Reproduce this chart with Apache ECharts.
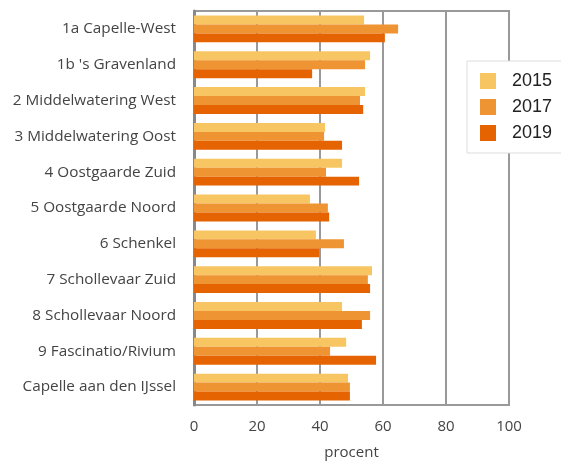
<!DOCTYPE html>
<html><head><meta charset="utf-8">
<script src="https://cdn.jsdelivr.net/npm/echarts@6/dist/echarts.min.js"></script>
<style>html,body{margin:0;padding:0;background:#fff}#c{width:561px;height:465px}</style>
</head><body><div id="c"></div>
<script>
const categories = ["1a Capelle-West","1b 's Gravenland","2 Middelwatering West","3 Middelwatering Oost","4 Oostgaarde Zuid","5 Oostgaarde Noord","6 Schenkel","7 Schollevaar Zuid","8 Schollevaar Noord","9 Fascinatio/Rivium","Capelle aan den IJssel"];
const years = ["2015","2017","2019"];
const v2015 = [54.0,55.9,54.3,41.6,47.0,36.8,38.7,56.5,47.0,48.3,48.9];
const v2017 = [64.8,54.3,52.7,41.3,41.9,42.5,47.6,55.2,55.9,43.2,49.5];
const v2019 = [60.6,37.5,53.7,47.0,52.4,42.9,39.7,55.9,53.3,57.8,49.5];
const xTicks = [0,20,40,60,80,100];
const colors = ["#F7C662","#EF9433","#E56300"];
const font = "'Open Sans', sans-serif";
const chart = echarts.init(document.getElementById('c'));
const mk = (name, data, color) => ({name, type:'bar', data, itemStyle:{color}, barGap:'0%', barCategoryGap:'25%'});
chart.setOption({
  animation:false,
  grid:{left:194,right:52,top:11,bottom:59,show:true,borderColor:'#999',borderWidth:2,backgroundColor:'transparent'},
  legend:{orient:'vertical',left:467,top:61,data:years,itemWidth:16,itemHeight:16,itemGap:8,
    backgroundColor:'#fff',borderColor:'#ddd',borderWidth:1,padding:[11,40,11,13],
    textStyle:{fontSize:18,color:'#222',fontFamily:"'Liberation Sans', sans-serif",padding:[0,0,0,11]},icon:'rect'},
  xAxis:{type:'value',min:xTicks[0],max:xTicks[xTicks.length-1],interval:20,
    name:'procent',nameLocation:'middle',nameGap:40,nameTextStyle:{fontSize:15,color:'#444',fontFamily:font},
    axisLabel:{fontSize:15,color:'#444',fontFamily:font,margin:14},
    axisLine:{show:false},axisTick:{show:false},
    splitLine:{show:true,lineStyle:{color:'#999',width:2}}},
  yAxis:{type:'category',data:categories,inverse:true,
    axisLabel:{fontSize:15.3,color:'#444',fontFamily:font,margin:18},
    axisLine:{show:true,lineStyle:{color:'#888',width:3}},axisTick:{show:false}},
  series:[mk(years[0],v2015,colors[0]),mk(years[1],v2017,colors[1]),mk(years[2],v2019,colors[2])]
});
</script></body></html>
